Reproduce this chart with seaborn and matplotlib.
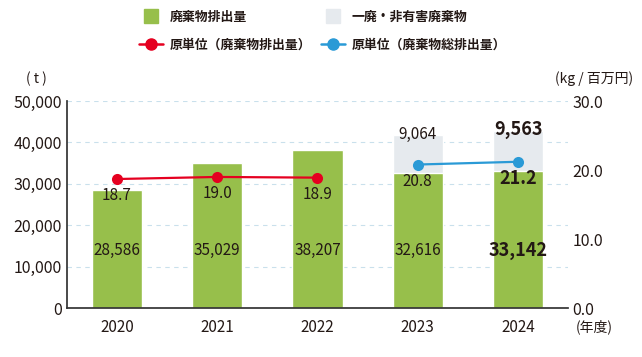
import matplotlib
matplotlib.use("Agg")
import matplotlib.pyplot as plt
import seaborn as sns
from matplotlib.lines import Line2D
from matplotlib.ticker import FuncFormatter

# data
years = ["2020", "2021", "2022", "2023", "2024"]
waste = [28586, 35029, 38207, 32616, 33142]
other_waste = [0, 0, 0, 9064, 9563]
unit_a = [18.7, 19.0, 18.9]        # 2020-2022
unit_b = [20.8, 21.2]              # 2023-2024

green = "#97bf4b"
gray = "#e6eaee"
red = "#e50020"
blue = "#2a9ad6"
txt = "#231815"

sns.set_theme(style="white")
plt.rcParams["font.family"] = ["Noto Sans CJK JP", "DejaVu Sans"]

fig = plt.figure(figsize=(6.42, 3.57), dpi=100)
ax = fig.add_axes([0.104, 0.137, 0.781, 0.580])

totals = [w + o for w, o in zip(waste, other_waste)]
sns.barplot(x=years, y=totals, color=gray, width=0.5, saturation=1, ax=ax)
sns.barplot(x=years, y=waste, color=green, width=0.5, saturation=1, ax=ax)

ax.set_ylim(0, 50000)
ax.set_xlim(-0.5, 4.5)
ax.set_yticks(range(0, 50001, 10000))
ax.yaxis.set_major_formatter(FuncFormatter(lambda v, p: f"{int(v):,}"))
ax.grid(axis="y", color="#c9e0ec", linestyle=(0, (4, 4)), linewidth=0.8)
ax.set_axisbelow(True)
for s in ["top", "right"]:
    ax.spines[s].set_visible(False)
ax.spines["left"].set_color("#333333")
ax.spines["bottom"].set_color("#333333")
ax.tick_params(axis="both", length=0, labelsize=11.5, labelcolor=txt)
ax.tick_params(axis="x", pad=8, labelsize=11)
ax.set_xlabel("")
ax.set_ylabel("")

# bar value labels
for i, v in enumerate(waste):
    big = i == len(waste) - 1
    ax.text(i, 14000, f"{v:,}", ha="center", va="center", color=txt,
            fontsize=13 if big else 11, fontweight="bold" if big else "normal")
for i, (v, o) in enumerate(zip(waste, other_waste)):
    if o:
        big = i == len(waste) - 1
        ax.text(i, v + o + 300, f"{o:,}", ha="center", va="center", color=txt,
                fontsize=13 if big else 11, fontweight="bold" if big else "normal")

# intensity lines on right axis
ax2 = ax.twinx()
xa = list(range(len(unit_a)))
xb = list(range(len(unit_a), len(years)))
sns.lineplot(x=xa, y=unit_a, color=red, marker="o", markersize=8,
             markeredgewidth=0, linewidth=1.6, ax=ax2)
sns.lineplot(x=xb, y=unit_b, color=blue, marker="o", markersize=8,
             markeredgewidth=0, linewidth=1.6, ax=ax2)
ax2.set_ylim(0, 30)
ax2.set_xlim(-0.5, 4.5)
ax2.set_yticks([0, 10, 20, 30])
ax2.yaxis.set_major_formatter(FuncFormatter(lambda v, p: f"{v:.1f}"))
ax2.tick_params(axis="y", length=0, labelsize=11.5, labelcolor=txt, pad=3)
for s in ["top", "right", "left", "bottom"]:
    ax2.spines[s].set_visible(False)
ax2.grid(False)

for x, v in zip(xa + xb, unit_a + unit_b):
    big = x == len(years) - 1
    ax2.text(x, v - 2.4, f"{v:.1f}", ha="center", va="center", color=txt,
             fontsize=13 if big else 11, fontweight="bold" if big else "normal")

# axis unit labels
fig.text(0.056, 0.78, "( t )", ha="center", va="center", fontsize=10, color=txt)
fig.text(0.925, 0.78, "(kg / 百万円)", ha="center", va="center", fontsize=10, color=txt)
fig.text(0.925, 0.085, "(年度)", ha="center", va="center", fontsize=10, color=txt)

# legend
handles = [
    Line2D([0], [0], color=green, marker="s", markersize=10, linestyle="none"),
    Line2D([0], [0], color=red, marker="o", markersize=8, linewidth=1.8),
    Line2D([0], [0], color=gray, marker="s", markersize=10, linestyle="none"),
    Line2D([0], [0], color=blue, marker="o", markersize=8, linewidth=1.8),
]
labels = ["廃棄物排出量", "原単位（廃棄物排出量）", "一廃・非有害廃棄物", "原単位（廃棄物総排出量）"]
fig.legend(handles, labels, ncol=2, loc="upper left", bbox_to_anchor=(0.1985, 1.005),
           frameon=False, handlelength=1.86, handletextpad=0.54,
           columnspacing=0.7, labelspacing=1.05, labelcolor=txt,
           prop={"size": 9.3, "weight": "bold"})

fig.savefig("out.png", dpi=100)
